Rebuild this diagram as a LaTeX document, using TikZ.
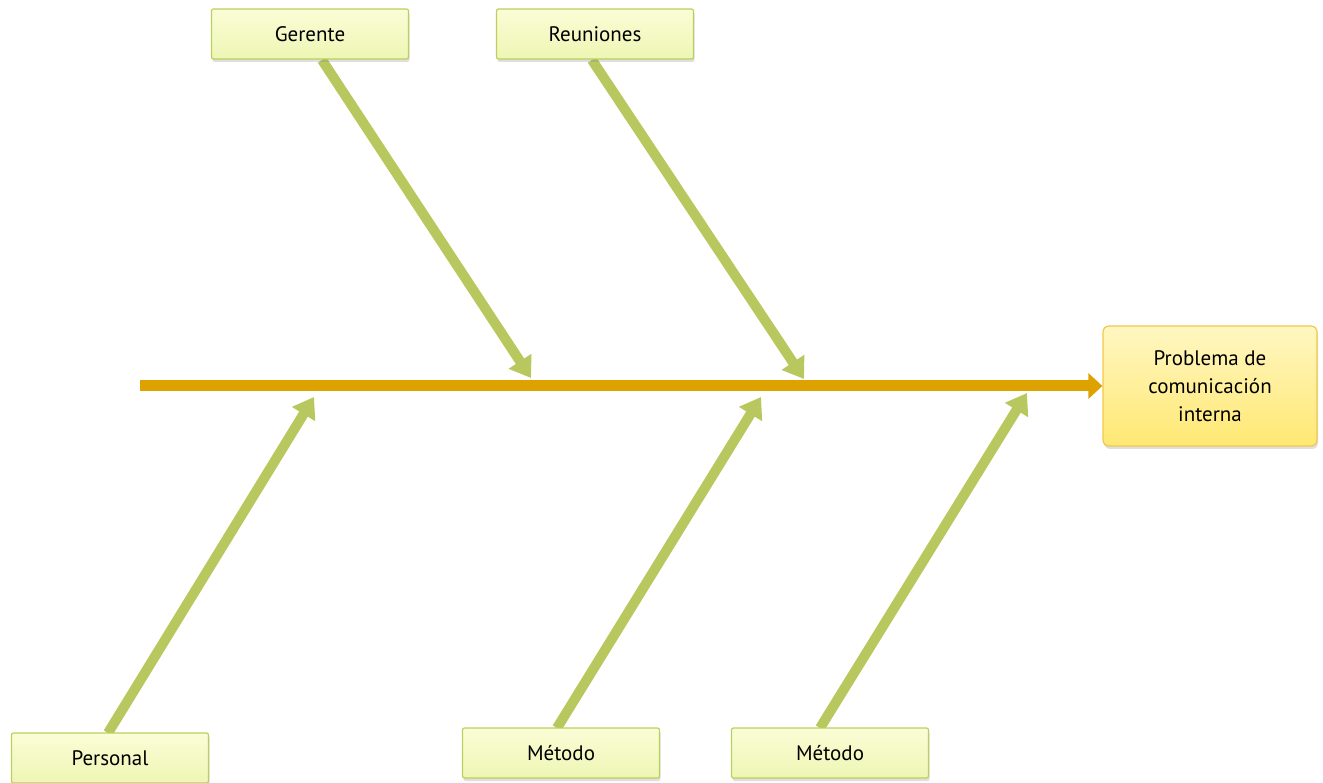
\documentclass[tikz,border=0pt]{standalone}
\usepackage{fontspec}
\setmainfont{PT Sans}
\usetikzlibrary{arrows.meta,shadows,backgrounds}
\definecolor{spine}{HTML}{DEA200}
\definecolor{branch}{HTML}{B8C85E}
\definecolor{cborder}{HTML}{BCCF5C}
\definecolor{ctop}{HTML}{FAFDD6}
\definecolor{cbot}{HTML}{EEF6B4}
\definecolor{pborder}{HTML}{F2C84A}
\definecolor{ptop}{HTML}{FFF7C2}
\definecolor{pbot}{HTML}{FFE873}
\tikzset{
  cause/.style={draw=cborder, line width=1.2pt, rounded corners=2pt, top color=ctop, bottom color=cbot,
    minimum width=197pt, minimum height=50pt, font=\fontsize{21}{26}\selectfont, inner sep=0pt,
    drop shadow={opacity=0.25, shadow xshift=1pt, shadow yshift=-3pt}},
  effect/.style={draw=pborder, line width=1.2pt, rounded corners=6pt, top color=ptop, bottom color=pbot,
    minimum width=214pt, minimum height=120pt, font=\fontsize{21}{28}\selectfont, align=center, inner sep=0pt,
    drop shadow={opacity=0.25, shadow xshift=1pt, shadow yshift=-3pt}},
  bone/.style={draw=branch, line width=10pt, -{Triangle[width=26pt,length=20pt]}},
  spineline/.style={draw=spine, line width=11pt, -{Triangle[width=25pt,length=14pt]}},
}
\begin{document}
\begin{tikzpicture}[x=1pt,y=-1pt]
\useasboundingbox (0,0) rectangle (1323,783);
% nodes
\node[effect] (prob) at (1210,386) {Problema de\\comunicación\\interna};
\node[cause] (ger) at (310,34) {Gerente};
\node[cause] (reu) at (595,34) {Reuniones};
\node[cause] (per) at (110,758) {Personal};
\node[cause] (met1) at (561,753) {Método};
\node[cause] (met2) at (830,753) {Método};
% coordinates
\coordinate (s0) at (140,386);
\coordinate (gs) at (322,60);
\coordinate (ge) at (531,378);
\coordinate (rs) at (592,60);
\coordinate (re) at (804,379);
\coordinate (ps) at (108,733);
\coordinate (pe) at (314,397);
\coordinate (m1s) at (557,728);
\coordinate (m1e) at (761,397);
\coordinate (m2s) at (820,728);
\coordinate (m2e) at (1027,393);
\begin{scope}[on background layer]
\draw[spineline] (s0) -- (prob.west);
\draw[bone] (gs) -- (ge);
\draw[bone] (rs) -- (re);
\draw[bone] (ps) -- (pe);
\draw[bone] (m1s) -- (m1e);
\draw[bone] (m2s) -- (m2e);
\end{scope}
\end{tikzpicture}
\end{document}
